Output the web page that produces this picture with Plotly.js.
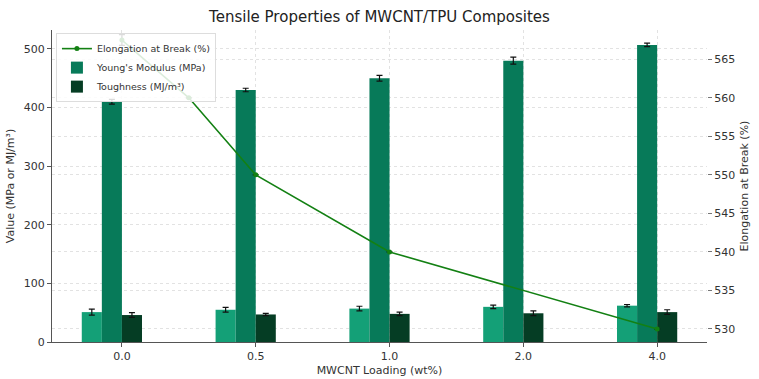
<!DOCTYPE html>
<html>
<head>
<meta charset="utf-8">
<script src="https://cdn.plot.ly/plotly-3.0.1.min.js"></script>
<style>
  html, body { margin: 0; padding: 0; background: #fff; }
  #plotly_graph { width: 759px; height: 379px; }
</style>
</head>
<body>
<div id="plotly_graph"></div>
<script>
// ~~~~~~~~~~~~~~~~~~~~~~~~~~~~~~~~ DATA ~~~~~~~~~~~~~~~~~~~~~~~~~~~~~~~~
const LOADING_LABELS = ["0.0", "0.5", "1.0", "2.0", "4.0"]
const LOADING_VALUES = [0, 0.5, 1.0, 2.0, 4.0]

const TENSILE = [51, 55, 57, 60, 62]
const TENSILE_ERR = [5, 4, 4, 3, 2]

const MODULUS = [410, 430, 450, 480, 507]
const MODULUS_ERR = [4, 3, 5, 6, 3]

const TOUGHNESS = [46, 47, 48, 49, 51]
const TOUGHNESS_ERR = [4, 2, 3, 4, 4]

const ELONGATION = [567.5, 560, 550, 540, 530]
const ELONGATION_ERR = [0.7, 0, 0, 0, 0]

// bars sit on category slots, line on the actual loading value
const SLOTS = LOADING_LABELS.map((_, i) => i)

const BAR_W = 0.15
const FONT = 'DejaVu Sans, sans-serif'

// ~~~~~~~~~~~~~~~~~~~~~~~~~~~~~~~~ TRACES ~~~~~~~~~~~~~~~~~~~~~~~~~~~~~~~
const errStyle = arr => ({
    type: 'data', array: arr, visible: true,
    color: '#111', thickness: 1.2, width: 3
})

let elongation = {
    name: 'Elongation at Break (%)',
    type: 'scatter', mode: 'lines+markers',
    x: LOADING_VALUES, y: ELONGATION,
    yaxis: 'y2',
    line: {color: '#138013', width: 1.6},
    marker: {color: '#138013', size: 5},
    error_y: errStyle(ELONGATION_ERR),
    legendrank: 1
}

let tensile = {
    name: 'Tensile Strength (MPa)',
    type: 'bar', x: SLOTS, y: TENSILE,
    width: BAR_W, offset: -2 * BAR_W,
    marker: {color: '#14a077'},
    error_y: errStyle(TENSILE_ERR),
    showlegend: false
}

let modulus = {
    name: "Young's Modulus (MPa)",
    type: 'bar', x: SLOTS, y: MODULUS,
    width: BAR_W, offset: -BAR_W,
    marker: {color: '#077a59'},
    error_y: errStyle(MODULUS_ERR),
    legendrank: 2
}

let toughness = {
    name: 'Toughness (MJ/m³)',
    type: 'bar', x: SLOTS, y: TOUGHNESS,
    width: BAR_W, offset: 0,
    marker: {color: '#053d24'},
    error_y: errStyle(TOUGHNESS_ERR),
    legendrank: 3
}

let data = [tensile, modulus, toughness, elongation]

// ~~~~~~~~~~~~~~~~~~~~~~~~~~~~~~~~ LAYOUT ~~~~~~~~~~~~~~~~~~~~~~~~~~~~~~~
const GRID = '#e2e2e2'

let layout = {
    width: 759, height: 379,
    margin: {t: 30, r: 52, b: 37, l: 52},
    paper_bgcolor: '#fff', plot_bgcolor: '#fff',
    font: {family: FONT, size: 11, color: '#333'},
    barmode: 'overlay',
    title: {
        text: 'Tensile Properties of MWCNT/TPU Composites',
        font: {size: 15, color: '#222'},
        x: 0.5, xanchor: 'center', y: 0.955, yanchor: 'middle'
    },
    showlegend: true,
    legend: {
        x: 0.006, y: 0.99, xanchor: 'left', yanchor: 'top',
        bgcolor: 'rgba(255,255,255,0.85)', bordercolor: '#ddd', borderwidth: 1,
        font: {size: 9.5, color: '#333'},
        traceorder: 'normal', tracegroupgap: 0,
        itemwidth: 30, entrywidthmode: 'pixels'
    },
    xaxis: {
        range: [-0.5225, 4.3725],
        tickvals: SLOTS, ticktext: LOADING_LABELS,
        ticks: 'outside', ticklen: 4, tickcolor: '#555',
        showline: true, linecolor: '#555', linewidth: 1.2,
        showgrid: true, gridcolor: GRID, griddash: 'dot', gridwidth: 1,
        zeroline: false,
        title: {text: 'MWCNT Loading (wt%)', font: {size: 11}, standoff: 4}
    },
    yaxis: {
        range: [0, 532.4],
        tickvals: [0, 100, 200, 300, 400, 500],
        ticks: 'outside', ticklen: 4, tickcolor: '#555',
        showline: true, linecolor: '#555', linewidth: 1.2,
        showgrid: true, gridcolor: GRID, griddash: 'dot', gridwidth: 1,
        zeroline: false,
        title: {text: 'Value (MPa or MJ/m³)', font: {size: 11}, standoff: 6}
    },
    yaxis2: {
        overlaying: 'y', side: 'right',
        range: [528.31, 568.8],
        tickvals: [530, 535, 540, 545, 550, 555, 560, 565],
        ticks: 'outside', ticklen: 4, tickcolor: '#777',
        showline: false,
        showgrid: true, gridcolor: GRID, griddash: 'dot', gridwidth: 1,
        zeroline: false,
        title: {text: 'Elongation at Break (%)', font: {size: 11}, standoff: 6}
    }
}

const config = {displayModeBar: false, responsive: false}

Plotly.newPlot('plotly_graph', data, layout, config)
</script>
</body>
</html>
